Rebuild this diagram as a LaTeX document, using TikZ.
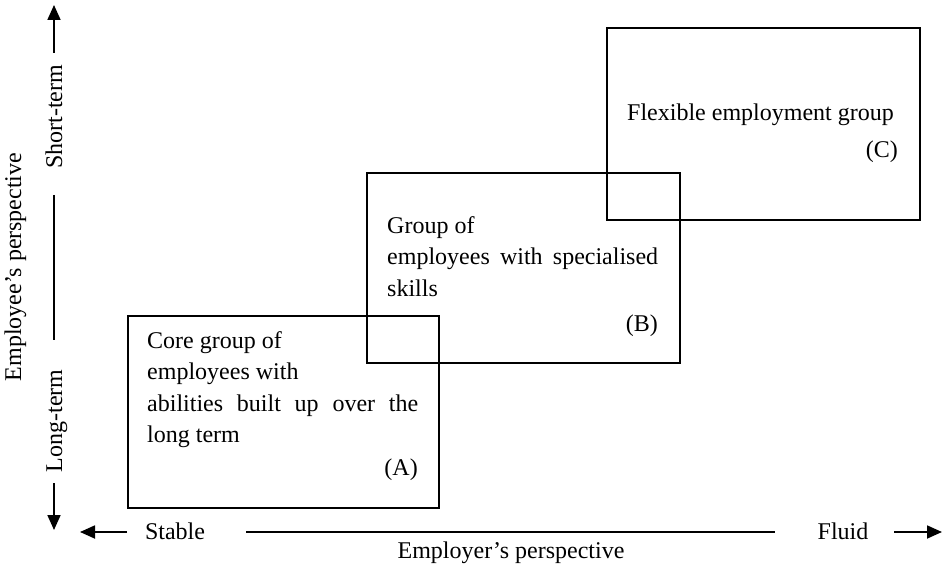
\documentclass[tikz,border=0pt]{standalone}
\usepackage{fontspec}
\setmainfont{Liberation Serif}
\usetikzlibrary{arrows.meta}
\begin{document}
\begin{tikzpicture}[x=1pt,y=-1pt,
  axisline/.style={line width=1.8pt},
  axisarrow/.style={line width=1.8pt,-{Triangle[length=15pt,width=13pt]}},
  groupbox/.style={draw,line width=1.8pt,rectangle,inner sep=0pt,anchor=north west},
  boxtext/.style={inner sep=0pt,anchor=base west,text width=271pt,align=justify,font=\fontsize{24}{31.5}\selectfont},
  tag/.style={inner sep=0pt,anchor=base east,font=\fontsize{24}{31.5}\selectfont},
  lbl/.style={inner sep=0pt,anchor=base,font=\fontsize{24}{29}\selectfont}]
\useasboundingbox (0,0) rectangle (943,572);

% group boxes
\node[groupbox,minimum width=311pt,minimum height=192pt] (boxA) at (127,315) {};
\node[groupbox,minimum width=313pt,minimum height=190pt] (boxB) at (366,172) {};
\node[groupbox,minimum width=313pt,minimum height=192pt] (boxC) at (606,27) {};

% box texts
\node[boxtext] (textA) at (147,348) {Core group of\\employees with\\abilities built up over the\linebreak long term};
\node[tag] (tagA) at (418,475) {(A)};
\node[boxtext] (textB) at (387,233.5) {Group of\\employees with specialised\linebreak skills};
\node[tag] (tagB) at (658,331) {(B)};
\node[boxtext] (textC) at (627,120.5) {Flexible employment group};
\node[tag] (tagC) at (898,158) {(C)};

% vertical axis labels
\node[lbl,rotate=90] (emp) at (21,267) {Employee’s perspective};
\node[lbl,rotate=90] (st) at (62,117) {Short-term};
\node[lbl,rotate=90] (lt) at (62,421) {Long-term};

% horizontal axis labels
\node[lbl] (stable) at (175,539) {Stable};
\node[lbl] (fluid) at (843,539) {Fluid};
\node[lbl] (emr) at (511,558) {Employer’s perspective};

% vertical axis
\coordinate (vtop) at (54,5);
\coordinate (vtopend) at (54,53);
\coordinate (vmidA) at (54,195);
\coordinate (vmidB) at (54,340);
\coordinate (vlow) at (54,483);
\coordinate (vbot) at (54,530);
\draw[axisarrow] (vtopend) -- (vtop);
\draw[axisline] (vmidA) -- (vmidB);
\draw[axisarrow] (vlow) -- (vbot);

% horizontal axis
\coordinate (hleft) at (80,532);
\coordinate (hleftend) at (127,532);
\coordinate (hmidA) at (246,532);
\coordinate (hmidB) at (775,532);
\coordinate (hrightstart) at (894,532);
\coordinate (hright) at (942,532);
\draw[axisarrow] (hleftend) -- (hleft);
\draw[axisline] (hmidA) -- (hmidB);
\draw[axisarrow] (hrightstart) -- (hright);
\end{tikzpicture}
\end{document}
